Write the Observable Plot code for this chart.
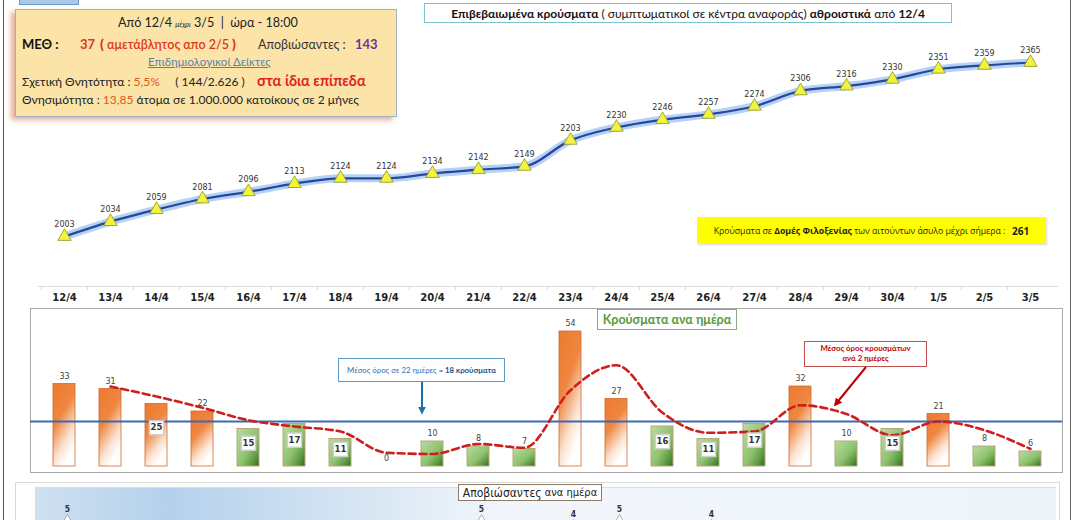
<!DOCTYPE html>
<html><head><meta charset="utf-8">
<script src="https://cdn.jsdelivr.net/npm/d3@7"></script>
<script src="https://cdn.jsdelivr.net/npm/@observablehq/plot@0.6"></script>
<style>
body{margin:0;background:#fff;}
#root{position:relative;width:1075px;height:520px;overflow:hidden;background:#fff;font-family:Lato,"Open Sans",sans-serif;color:#222;}
#root > *{position:absolute;}
.t{position:absolute;white-space:pre;line-height:1;}
.box{box-sizing:border-box;display:flex;align-items:center;justify-content:center;text-align:center;white-space:pre;}
</style></head><body><div id="root"></div>
<script>
// ---------- data ----------
const dates = ["12/4","13/4","14/4","15/4","16/4","17/4","18/4","19/4","20/4","21/4","22/4","23/4","24/4","25/4","26/4","27/4","28/4","29/4","30/4","1/5","2/5","3/5"];
const cumulative = [2003,2034,2059,2081,2096,2113,2124,2124,2134,2142,2149,2203,2230,2246,2257,2274,2306,2316,2330,2351,2359,2365];
const daily = [33,31,25,22,15,17,11,0,10,8,7,54,27,16,11,17,32,10,15,21,8,6];
const avg2days = [null,32,28,23.5,18.5,16,14,5.5,5,9,7.5,30.5,40.5,21.5,13.5,14,24.5,21,12.5,18,14.5,7];
const dailyMean = 18;
const boxedLabelDays = ["14/4","16/4","17/4","18/4","25/4","26/4","27/4","30/4"];
const deaths = [5,null,null,null,null,null,null,null,null,5,null,4,5,null,4,null,null,null,null,null,null,null];

const root = document.getElementById("root");
function add(tag, css, html){const e=document.createElement(tag);Object.assign(e.style,css);if(html!=null)e.innerHTML=html;root.appendChild(e);return e;}

// outer borders
add("div",{left:"3px",top:"0",width:"0",height:"520px",borderLeft:"1.5px solid #555"});
add("div",{left:"1070px",top:"0",width:"0",height:"520px",borderLeft:"1.5px solid #666"});

// small box cut at top-left
add("div",{left:"19px",top:"-6px",width:"58px",height:"9px",background:"#a9c9ea",border:"1px solid #7098c4"});

// info box
add("div",{left:"15px",top:"9px",width:"382px",height:"108px",boxSizing:"border-box",background:"#fce4a8",border:"1.5px solid #9fb0c6",boxShadow:"-4px 3px 5px rgba(214,110,70,0.55)"});
const T = (html, css) => { const e = add("div", Object.assign({}, css), html); e.className = "t"; return e; };
T('Από 12/4 <span style="font-size:7px;font-style:italic">μέχρι</span> 3/5  |  ώρα - 18:00',{left:"118px",top:"17px",fontSize:"12.6px",color:"#222"});
T('ΜΕΘ :',{left:"22px",top:"38px",fontSize:"13px",fontWeight:"bold",color:"#111"});
T('37',{left:"80px",top:"38px",fontSize:"13px",fontWeight:"bold",color:"#e0351e"});
T('<b style="font-size:14px">(</b> αμετάβλητος απο 2/5 <b style="font-size:14px">)</b>',{left:"100px",top:"37px",fontSize:"12.5px",fontWeight:"600",color:"#e0351e"});
T('Αποβιώσαντες :',{left:"258px",top:"39px",fontSize:"12.5px",color:"#333"});
T('143',{left:"355px",top:"38px",fontSize:"13px",fontWeight:"bold",color:"#7030a0"});
T('Επιδημιολογικοί Δείκτες',{left:"148px",top:"56px",fontSize:"11.5px",color:"#5a80a8",textDecoration:"underline"});
T('Σχετική Θνητότητα : <span style="color:#e2561f">5,5%</span>     ( 144/2.626 )  <b style="font-size:14.5px;color:#e2231a;margin-left:6px">στα ίδια επίπεδα</b>',{left:"22px",top:"74px",fontSize:"12px",color:"#222"});
T('Θνησιμότητα : <span style="color:#e2561f">13,85</span> άτομα σε 1.000.000 κατοίκους σε 2 μήνες',{left:"22px",top:"94px",fontSize:"12px",color:"#222"});

// title box
const tb = add("div",{left:"424px",top:"3px",width:"528px",height:"20px",border:"1.3px solid #7ec3d3",background:"#fff",fontSize:"12px",color:"#111"},
 '<b>Επιβεβαιωμένα κρούσματα</b> ( συμπτωματικοί σε κέντρα αναφοράς) <b>αθροιστικά</b> από <b>12/4</b>');
tb.className="box";

// ---------- top: cumulative line ----------
const cumData = dates.map((d,i)=>({date:d,value:cumulative[i]}));
const xBand = (r0,r1)=>({type:"band",domain:dates,range:[r0,r1],paddingInner:0.525,paddingOuter:0.2625,align:0.5,label:null});
const font = "DejaVu Sans, Verdana, sans-serif";
const p1 = Plot.plot({
  width:1075,height:305,marginTop:0,marginLeft:38,marginRight:18,marginBottom:19,
  style:{background:"transparent",overflow:"visible",fontFamily:font},
  x:Object.assign(xBand(36.8,1056.2),{axis:null}),
  y:{domain:[2003,2365],range:[236,62],axis:null},
  marks:[
    Plot.frame({anchor:"bottom",stroke:"#dcdcdc"}),
    Plot.axisX({anchor:"bottom",tickSize:4,tickFormat:()=>"",dx:-23.17,stroke:"#d6d6d6",label:null}),
    Plot.axisX({anchor:"bottom",tickSize:0,tickPadding:7,fontSize:10,fontWeight:"bold",color:"#222",label:null}),
    Plot.line(cumData,{x:"date",y:"value",stroke:"#9dc2f3",strokeWidth:8,strokeOpacity:0.75,curve:"monotone-x"}),
    Plot.line(cumData,{x:"date",y:"value",stroke:"#27479a",strokeWidth:2.2,curve:"monotone-x"}),
    Plot.dot(cumData,{x:"date",y:"value",symbol:"triangle",r:5,fill:"#f3f33b",stroke:"#8d962e",strokeWidth:0.8}),
    Plot.text(cumData,{x:"date",y:"value",text:d=>String(d.value),dy:-12,fontSize:8,fill:"#333"})
  ]
});
root.appendChild(p1); Object.assign(p1.style,{position:"absolute",left:"0",top:"0"});

// yellow box
const yb = add("div",{left:"697px",top:"217px",width:"349px",height:"27px",background:"#ffff00",fontSize:"8.7px",color:"#222",fontFamily:"'Open Sans',sans-serif",boxShadow:"1px 1px 2px rgba(0,0,0,0.15)"},
 'Κρούσματα σε <b>Δομές Φιλοξενίας</b> των αιτούντων άσυλο μέχρι σήμερα :   <b style="font-size:10px">261</b>');
yb.className="box";

// ---------- daily bars ----------
const dailyData = dates.map((d,i)=>({date:d,value:daily[i],boxed:boxedLabelDays.includes(d)}));
const avgData = dates.map((d,i)=>({date:d,value:avg2days[i]})).filter(d=>d.value!=null);
const above = d=>d.value>dailyMean;
const p2 = Plot.plot({
  width:1075,height:480,marginTop:308,marginBottom:8,marginLeft:30,marginRight:13,
  style:{background:"transparent",overflow:"visible",fontFamily:font},
  x:Object.assign(xBand(36.8,1056.2),{axis:null}),
  y:{domain:[0,54],range:[466,331],axis:null},
  marks:[
    Plot.frame({stroke:"#a9a9a9",fill:"white"}),
    Plot.barY(dailyData.filter(above),{x:"date",y:"value",fill:"url(#gOrange)",stroke:"#d06a2c",strokeWidth:0.8}),
    Plot.barY(dailyData.filter(d=>!above(d)),{x:"date",y:"value",fill:"url(#gGreen)",stroke:"#b9a77c",strokeWidth:1}),
    Plot.ruleY([dailyMean],{stroke:"#3c69b2",strokeWidth:2}),
    Plot.line(avgData,{x:"date",y:"value",stroke:"#cc1f1f",strokeWidth:2.6,strokeDasharray:"7,4",curve:"monotone-x"}),
    Plot.text(dailyData.filter(d=>!d.boxed),{x:"date",y:"value",text:d=>String(d.value),dy:-8,fontSize:8,fill:"#444"}),
    Plot.dot(dailyData.filter(d=>d.boxed),{x:"date",y:d=>d.value*0.62,symbol:"square",r:8,fill:"white",stroke:"#cfcfcf"}),
    Plot.text(dailyData.filter(d=>d.boxed),{x:"date",y:d=>d.value*0.62,text:d=>String(d.value),fontSize:8.5,fontWeight:"bold",fill:"#333"})
  ]
});
d3.select(p2).insert("defs",":first-child").html(`
 <linearGradient id="gOrange" x1="0" y1="0" x2="0.45" y2="1">
  <stop offset="0" stop-color="#ec7a2e"/><stop offset="0.45" stop-color="#ef8640"/>
  <stop offset="0.8" stop-color="#fbe3d2"/><stop offset="1" stop-color="#ffffff"/></linearGradient>
 <linearGradient id="gGreen" x1="0" y1="0" x2="1" y2="1">
  <stop offset="0" stop-color="#b9dca2"/><stop offset="0.55" stop-color="#8fc26f"/>
  <stop offset="0.8" stop-color="#5d9a42"/><stop offset="1" stop-color="#2f6a22"/></linearGradient>`);
root.appendChild(p2); Object.assign(p2.style,{position:"absolute",left:"0",top:"0"});

// annotations in daily panel
const a1 = add("div",{left:"338px",top:"358px",width:"167px",height:"24px",border:"1px solid #5b9bc4",background:"#fff",fontSize:"7.8px",color:"#2e74b5"},
 'Μέσος όρος σε 22 ημέρες <b style="color:#1f4e8c">= 18 κρούσματα</b>'); a1.className="box";
const a2 = add("div",{left:"597px",top:"309px",width:"140px",height:"21px",border:"1px solid #8fa886",background:"#fff",fontSize:"12.5px",fontWeight:"bold",color:"#5a9a3c"},
 'Κρούσματα ανα ημέρα'); a2.className="box";
const a3 = add("div",{left:"804px",top:"341px",width:"123px",height:"26px",border:"1px solid #c0504d",background:"#fff",fontSize:"7.8px",fontWeight:"bold",color:"#c00000",lineHeight:"1.25"},
 'Μέσος όρος κρουσμάτων\nανά 2 ημέρες'); a3.className="box";
const arr = add("div",{left:"0",top:"0",width:"1075px",height:"520px",pointerEvents:"none"});
arr.innerHTML = `<svg width="1075" height="520" style="position:absolute;left:0;top:0">
 <defs><marker id="ab" viewBox="0 0 10 10" refX="8" refY="5" markerWidth="4" markerHeight="4" orient="auto"><path d="M0,0L10,5L0,10z" fill="#1f6fa8"/></marker>
 <marker id="ar" viewBox="0 0 10 10" refX="8" refY="5" markerWidth="4" markerHeight="4" orient="auto"><path d="M0,0L10,5L0,10z" fill="#c00000"/></marker></defs>
 <line x1="422" y1="382" x2="422" y2="413" stroke="#1f6fa8" stroke-width="2" marker-end="url(#ab)"/>
 <line x1="866" y1="367" x2="835" y2="405" stroke="#c00000" stroke-width="2" marker-end="url(#ar)"/></svg>`;

// ---------- deaths panel ----------
add("div",{left:"15px",top:"482px",width:"1045px",height:"60px",border:"1px solid #d9d9d9",background:"#fff",boxSizing:"border-box"});
add("div",{left:"35px",top:"487px",width:"1020px",height:"50px",borderTop:"1.5px solid #ecdfa2",borderLeft:"1.5px solid #ecdfa2",background:"linear-gradient(90deg,#cfe0f1 0%,#b4d1ec 13%,#d9e7f4 33%,#f2f6fb 46%,#eef4fa 100%)"});
const deathData = dates.map((d,i)=>({date:d,value:deaths[i]})).filter(d=>d.value!=null);
const p3 = Plot.plot({
  width:1075,height:560,marginTop:487,marginBottom:10,marginLeft:35,marginRight:20,
  style:{background:"transparent",overflow:"visible",fontFamily:"'Liberation Sans Narrow','DejaVu Sans Condensed',sans-serif"},
  x:Object.assign(xBand(36.3,1063.4),{axis:null}),
  y:{domain:[0,5],range:[544,519],axis:null},
  marks:[
    Plot.dot(deathData,{x:"date",y:"value",symbol:"diamond",r:3,fill:"white",stroke:"#999",strokeWidth:0.8}),
    Plot.text(deathData,{x:"date",y:"value",text:d=>String(d.value),dy:-10,fontSize:8.5,fontWeight:"bold",fill:"#333"})
  ]
});
root.appendChild(p3); Object.assign(p3.style,{position:"absolute",left:"0",top:"0"});
const dt = add("div",{left:"458px",top:"484px",width:"144px",height:"17px",border:"1px solid #8b7a66",background:"#fff",fontSize:"11px",color:"#222",fontFamily:"'Liberation Sans Narrow','DejaVu Sans Condensed',sans-serif"},
 '<span style="font-size:12px">Αποβιώσαντες</span> ανα ημέρα'); dt.className="box";
</script></body></html>
